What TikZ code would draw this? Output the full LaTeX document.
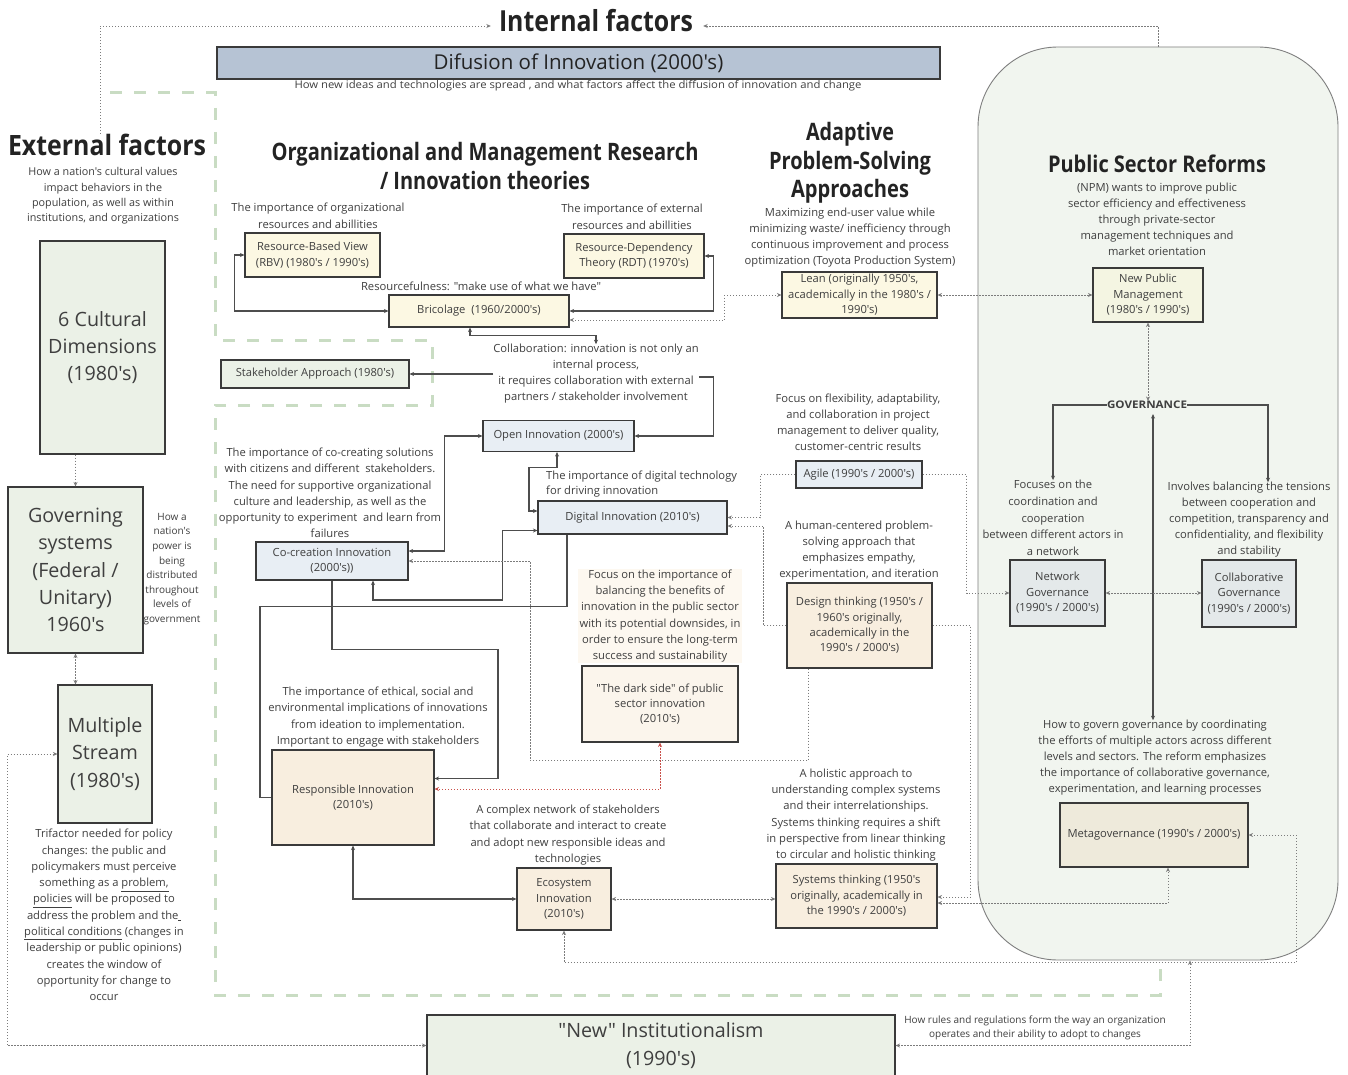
\documentclass[tikz,border=0pt]{standalone}
\usepackage{fontspec}
\setmainfont{Open Sans}[Ligatures=TeXOff]
\usepackage{graphicx}
\usetikzlibrary{arrows.meta,calc}

\definecolor{bordc}{HTML}{3A3A3A}
\definecolor{txtc}{HTML}{3F3F3F}
\definecolor{titc}{HTML}{232323}
\definecolor{linc}{HTML}{4D4D4D}
\definecolor{dotc}{HTML}{7C7C7C}
\definecolor{redc}{HTML}{C8504A}
\definecolor{grnd}{HTML}{C9DCC3}
\definecolor{fylw}{HTML}{FCF8E3}
\definecolor{fblu}{HTML}{E8EEF4}
\definecolor{fgrn}{HTML}{EBF1E7}
\definecolor{fbeg}{HTML}{F8EEDF}
\definecolor{fdark}{HTML}{FBF5EC}
\definecolor{fnote}{HTML}{FDF8F0}
\definecolor{fnet}{HTML}{E4E9EA}
\definecolor{fmeta}{HTML}{EEEADB}
\definecolor{fnpm}{HTML}{F4F5E2}
\definecolor{fpanel}{HTML}{F1F5EF}
\definecolor{panelb}{HTML}{7F7F7F}
\definecolor{fdif}{HTML}{B6C3D4}

\newcommand\bodyf{\fontsize{11.2}{16}\selectfont}
\newcommand\boxf{\fontsize{11.2}{15.4}\selectfont}
\newcommand\bigf{\fontsize{19.7}{27.2}\selectfont}
\newcommand\fitw[2]{\resizebox{#1pt}{\height}{#2}}

\begin{document}
\begin{tikzpicture}[x=1pt,y=-1pt,
  >={Stealth[length=4.5pt,width=4pt]},
  box/.style={draw=bordc, line width=1.1pt, inner sep=0pt, align=center, font=\boxf, text=txtc},
  yelbox/.style={box, fill=fylw},
  blubox/.style={box, fill=fblu},
  grnbox/.style={box, fill=fgrn},
  begbox/.style={box, fill=fbeg},
  netbox/.style={box, fill=fnet},
  note/.style={inner sep=0pt, align=center, font=\bodyf, text=txtc},
  title/.style={inner sep=0pt, align=center, text=titc},
  wire/.style={draw=linc, line width=1.1pt},
  dots/.style={draw=dotc, line width=0.9pt, dash pattern=on 1.2pt off 1.8pt},
  reddots/.style={dots, draw=redc},
  greenframe/.style={draw=grnd, line width=3pt, dash pattern=on 12pt off 12pt},
]
\clip (0,0) rectangle (1348,1075);
\fill[white] (0,0) rectangle (1348,1075);

% public sector reforms panel
\node[draw=panelb, fill=fpanel, line width=0.9pt, rounded corners=80pt,
      minimum width=360, minimum height=913, inner sep=0pt] (psr) at (1158,503.5) {};

% internal factors frame
\draw[greenframe] (110,93) -- (215,93) -- (215,340) -- (432,340) -- (432,405)
  -- (215,405) -- (215,995) -- (1160,995) -- (1160,960);

% headings
\node[title, font=\fontsize{29}{32}\bfseries] (tInt) at (596,21) {\fitw{194}{Internal factors}};
\node[title, font=\fontsize{28}{32}\bfseries] (tExt) at (107,145) {\fitw{198}{External factors}};
\node[title, font=\fontsize{24}{29}\bfseries] (orgT) at (485,166)
  {\fitw{427}{Organizational and Management Research}\\\fitw{210}{/ Innovation theories}};
\node[title, font=\fontsize{24}{28.5}\bfseries] (apsT) at (850,163)
  {\fitw{88}{Adaptive}\\\fitw{162}{Problem-Solving}\\\fitw{118}{Approaches}};
\node[title, font=\fontsize{23}{28}\bfseries] (psrT) at (1157,164) {\fitw{218}{Public Sector Reforms}};
\node[title, font=\fontsize{10.5}{12}\bfseries, text=txtc] (govt) at (1147,405) {\fitw{80}{GOVERNANCE}};

% diffusion banner
\node[box, fill=fdif, font=\fontsize{20.5}{24}\selectfont, text=titc, minimum width=723, minimum height=32] (dif) at (578.5,63) {Difusion of Innovation (2000's)};
\node[note, font=\fontsize{10.5}{13}\selectfont] (difD) at (578,86) {\fitw{567}{How new ideas and technologies are spread , and what factors affect the diffusion of innovation and change}};

% external factors column
\node[note, font=\fontsize{10.8}{15.3}\selectfont] (extD) at (103,196)
  {How a nation's cultural values\\impact behaviors in the\\population, as well as within\\institutions, and organizations};
\node[grnbox, font=\bigf, minimum width=125, minimum height=213] (cult) at (102.5,347.5) {6 Cultural\\Dimensions\\(1980's)};
\node[grnbox, font=\bigf, minimum width=135, minimum height=166] (govs) at (75.5,570) {Governing\\systems\\(Federal /\\Unitary)\\1960's};
\node[note, font=\fontsize{10}{14.6}\selectfont] (govD) at (172,569)
  {How a\\nation's\\power is\\being\\distributed\\throughout\\levels of\\government};
\node[grnbox, font=\bigf, minimum width=94, minimum height=138] (ms) at (105,754) {Multiple\\Stream\\(1980's)};
\node[note, font=\fontsize{11.2}{16.3}\selectfont] (msD) at (104,915)
  {Trifactor needed for policy\\changes: the public and\\policymakers must perceive\\something as a \underline{problem,}\\\underline{policies} will be proposed to\\address the problem and the\underline{\kern2.5pt}\\\underline{political conditions} (changes in\\leadership or public opinions)\\creates the window of\\opportunity for change to\\occur};
\node[grnbox, font=\bigf, minimum width=468, minimum height=61] (ni) at (661,1045.5) {"New" Institutionalism\\(1990's)};
\node[note, font=\fontsize{10}{14}\selectfont] (niD) at (1035,1028)
  {How rules and regulations form the way an organization\\operates and their ability to adopt to changes};

% organizational and management research
\node[note, font=\fontsize{11.2}{17}\selectfont] (rbvD) at (318,216) {The importance of organizational\\resources and abillities};
\node[note, font=\fontsize{11.2}{17}\selectfont] (rdtD) at (632,217) {The importance of external\\resources and abillities};
\node[yelbox, minimum width=135, minimum height=44] (rbv) at (312.5,255) {Resource-Based View\\(RBV) (1980's / 1990's)};
\node[yelbox, minimum width=140, minimum height=44] (rdt) at (634,256) {Resource-Dependency\\Theory (RDT) (1970's)};
\node[note] (resD) at (481,286) {\fitw{240}{Resourcefulness: "make use of what we have"}};
\node[yelbox, minimum width=180, minimum height=32] (bric) at (479,311) {Bricolage~ (1960/2000's)};
\node[grnbox, minimum width=188, minimum height=28] (stake) at (315,374) {Stakeholder Approach (1980's)};
\node[note] (collab) at (596,374)
  {Collaboration: innovation is not only an\\internal process,\\it requires collaboration with external\\partners / stakeholder involvement};
\node[blubox, minimum width=151, minimum height=31] (open) at (558.5,436) {Open Innovation (2000's)};
\node[note, font=\fontsize{11.2}{16.2}\selectfont] (coD) at (330,493)
  {The importance of co-creating solutions\\with citizens and different\ \ stakeholders.\\The need for supportive organizational\\culture and leadership, as well as the\\opportunity to experiment\ \ and learn from\\failures};
\node[blubox, minimum width=152, minimum height=38] (cocr) at (332,561) {Co-creation Innovation\\(2000's))};
\node[note, align=left, anchor=west, font=\fontsize{11.2}{15.5}\selectfont] (digD) at (546,484)
  {The importance of digital technology\\for driving innovation};
\node[blubox, minimum width=189, minimum height=33] (dig) at (632.5,517.5) {Digital Innovation (2010's)};
\node[note, fill=fnote, minimum width=164, minimum height=94, font=\fontsize{11.2}{16.2}\selectfont] (darkD) at (660,616)
  {Focus on the importance of\\balancing the benefits of\\innovation in the public sector\\with its potential downsides, in\\order to ensure the long-term\\success and sustainability};
\node[box, fill=fdark, minimum width=156, minimum height=76] (dark) at (660,704) {"The dark side" of public\\sector innovation\\(2010's)};
\node[note, font=\fontsize{11.2}{16.3}\selectfont] (respD) at (378,717)
  {The importance of ethical, social and\\environmental implications of innovations\\from ideation to implementation.\\Important to engage with stakeholders};
\node[begbox, minimum width=162, minimum height=95] (resp) at (353,797.5) {Responsible Innovation\\(2010's)};
\node[note, font=\fontsize{11.2}{16.3}\selectfont] (ecoD) at (568,835)
  {A complex network of stakeholders\\that collaborate and interact to create\\and adopt new responsible ideas and\\technologies};
\node[begbox, minimum width=94, minimum height=62] (eco) at (564,899) {Ecosystem\\Innovation\\(2010's)};

% adaptive problem-solving approaches
\node[note] (apsD) at (850,238)
  {Maximizing end-user value while\\minimizing waste/ inefficiency through\\continuous improvement and process\\optimization (Toyota Production System)};
\node[yelbox, minimum width=155, minimum height=46] (lean) at (859.5,295) {Lean (originally 1950's,\\academically in the 1980's /\\1990's)};
\node[note] (agileD) at (858,422)
  {Focus on flexibility, adaptability,\\and collaboration in project\\management to deliver quality,\\customer-centric results};
\node[blubox, minimum width=126, minimum height=27] (agile) at (859,474.5) {Agile (1990's / 2000's)};
\node[note] (dtD) at (859,551)
  {A human-centered problem-\\solving approach that\\emphasizes empathy,\\experimentation, and iteration};
\node[begbox, minimum width=145, minimum height=85] (design) at (859.5,625.5) {Design thinking (1950's /\\1960's originally,\\academically in the\\1990's / 2000's)};
\node[note, font=\fontsize{11.2}{16.2}\selectfont] (sysD) at (856,815)
  {A holistic approach to\\understanding complex systems\\and their interrelationships.\\Systems thinking requires a shift\\in perspective from linear thinking\\to circular and holistic thinking};
\node[begbox, minimum width=161, minimum height=64] (sys) at (856.5,896) {Systems thinking (1950's\\originally, academically in\\the 1990's / 2000's)};

% public sector reforms
\node[note] (psrD) at (1157,219)
  {(NPM) wants to improve public\\sector efficiency and effectiveness\\through private-sector\\management techniques and\\market orientation};
\node[box, fill=fnpm, minimum width=110, minimum height=54] (npm) at (1148,295) {New Public\\Management\\(1980's / 1990's)};
\node[note, font=\fontsize{11.2}{16.7}\selectfont] (netD) at (1053,518)
  {Focuses on the\\coordination and\\cooperation\\between different actors in\\a network};
\node[note] (colD) at (1249,520)
  {Involves balancing the tensions\\between cooperation and\\competition, transparency and\\confidentiality, and flexibility\\and stability};
\node[netbox, minimum width=95, minimum height=66] (net) at (1057.5,593) {Network\\Governance\\(1990's / 2000's)};
\node[netbox, minimum width=94, minimum height=67] (colg) at (1249,593.5) {Collaborative\\Governance\\(1990's / 2000's)};
\node[note] (metaD) at (1155,758)
  {How to govern governance by coordinating\\the efforts of multiple actors across different\\levels and sectors. The reform emphasizes\\the importance of collaborative governance,\\experimentation, and learning processes};
\node[box, fill=fmeta, minimum width=188, minimum height=64] (meta) at (1154,835) {Metagovernance (1990's / 2000's)};

% solid connectors
\draw[wire,<->] (rbv.west) -- ++(-10,0) |- (bric.west);
\draw[wire,<->] (rdt.east) -- ++(9,0) |- (bric.east);
\draw[wire,<->] ([xshift=-9pt]bric.south) -- ++(0,8) -| (collab.north);
\draw[wire,->] (collab.west |- stake.east) -- (stake.east);
\draw[wire,->] ([yshift=-3pt]collab.east) -- ++(15,0) |- (open.east);
\draw[wire,<->] (open.west) -- ++(-38,0) |- ([yshift=10pt]cocr.east);
\draw[wire,<->] ([xshift=-1.5pt]open.south) -- ++(0,15) -- ++(-28,0) |- ([yshift=6.5pt]dig.west);
\draw[wire,<->] ([yshift=-13pt]dig.west) -- ++(-35,0) -- ++(0,69.5) -| ([xshift=41pt]cocr.south);
\draw[wire] ([xshift=-65.5pt]dig.south) -- ++(0,72) -- ++(-307,0) |- (resp.west);
\draw[wire,->] (cocr.south) -- ++(0,69) -- ++(166,0) |- ([yshift=19pt]resp.east);
\draw[wire,<->] (resp.south) |- (eco.west);
\draw[wire,->] (govt.west) -| (netD.north);
\draw[wire,->] (govt.east) -| ([xshift=19pt]colD.north);
\coordinate (gvb) at ([xshift=6pt,yshift=-5pt]govt.south);
\draw[wire,<->] (gvb) -- (gvb |- metaD.north);

% dotted connectors
\draw[dots,->] ([xshift=-7pt]tExt.north) |- ([xshift=-8pt,yshift=-5pt]tInt.west);
\draw[dots,->] (psr.north) |- ([xshift=10pt,yshift=-5pt]tInt.east);
\draw[dots,->] (govs.north |- cult.south) -- (govs.north);
\draw[dots,<->] (govs.south) -- (govs.south |- ms.north);
\draw[dots,<->] (ni.west) -- ++(-419,0) |- (ms.west);
\draw[dots,<->] (ni.east) -| ([xshift=32pt]psr.south);
\draw[dots,<->] (lean.west) -- ++(-57,0) |- ([yshift=-9pt]bric.east);
\draw[dots,<->] (lean.east) -- (npm.west);
\draw[dots,<->] (npm.south) -- (npm.south |- govt.north);
\draw[dots,->] (agile.west) -- ++(-35,0) |- (dig.east);
\draw[dots,->] (design.west) -- ++(-23,0) |- ([yshift=-8.5pt]dig.east);
\draw[dots,->] ([xshift=-51.5pt]design.south) -- ++(0,92) -- ++(-278,0) |- (cocr.east);
\draw[reddots,<->] (dark.south) |- ([yshift=8.5pt]resp.east);
\draw[dots,<->] (eco.east) -- (eco.east -| sys.west);
\draw[dots,->] (design.east) -- ++(38,0) |- ([yshift=-1pt]sys.east);
\draw[dots,<->] ([yshift=-7pt]sys.east) -| ([xshift=14pt]meta.south);
\draw[dots,->] (agile.east) -- ++(44,0) |- (net.west);
\draw[dots,<->] (net.east) -- (net.east -| colg.west);
\draw[dots,<->] (eco.south) -- ++(0,32) -- ++(732,0) |- (meta.east);
\end{tikzpicture}
\end{document}
